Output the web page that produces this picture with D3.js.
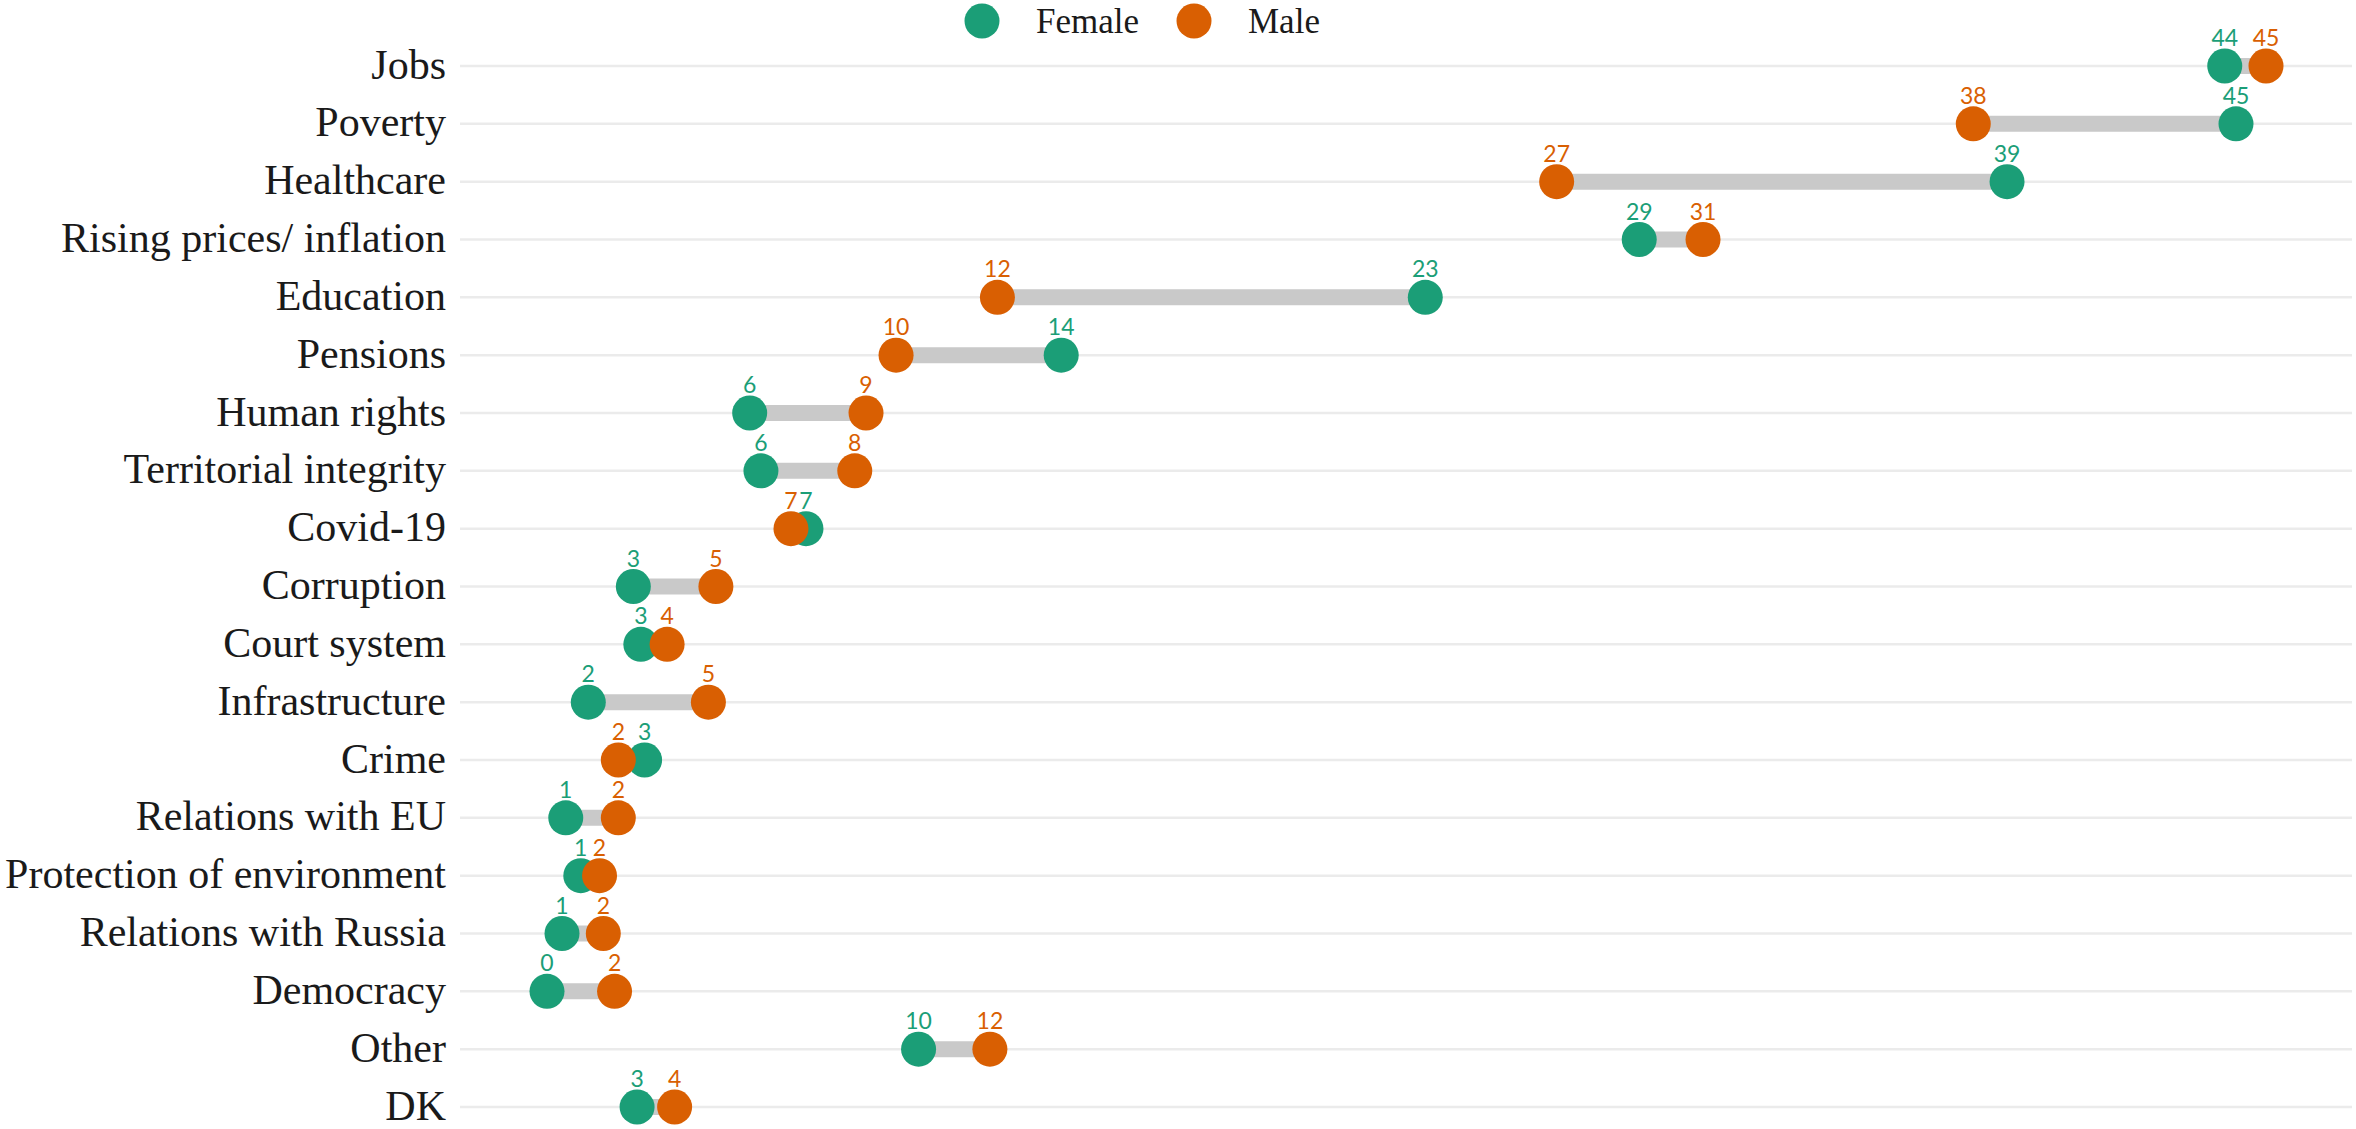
<!DOCTYPE html>
<html>
<head>
<meta charset="utf-8">
<script src="https://cdn.jsdelivr.net/npm/d3@7"></script>
<style>
  html, body { margin: 0; padding: 0; background: #ffffff; }
  svg { display: block; }
</style>
</head>
<body>
<svg id="chart"></svg>
<script>
// issues, top to bottom
var categories = [
  'Jobs', 'Poverty', 'Healthcare', 'Rising prices/ inflation', 'Education',
  'Pensions', 'Human rights', 'Territorial integrity', 'Covid-19', 'Corruption',
  'Court system', 'Infrastructure', 'Crime', 'Relations with EU',
  'Protection of environment', 'Relations with Russia', 'Democracy', 'Other', 'DK'
];

// plotted positions
var femaleValues = [44.7, 45.0, 38.9, 29.1, 23.4, 13.7, 5.4, 5.7, 6.9, 2.3, 2.5, 1.1, 2.6, 0.5, 0.9, 0.4, 0.0, 9.9, 2.4];
var maleValues   = [45.8, 38.0, 26.9, 30.8, 12.0, 9.3, 8.5, 8.2, 6.5, 4.5, 3.2, 4.3, 1.9, 1.9, 1.4, 1.5, 1.8, 11.8, 3.4];

// printed labels
var femaleLabels = ['44', '45', '39', '29', '23', '14', '6', '6', '7', '3', '3', '2', '3', '1', '1', '1', '0', '10', '3'];
var maleLabels   = ['45', '38', '27', '31', '12', '10', '9', '8', '7', '5', '4', '5', '2', '2', '2', '2', '2', '12', '4'];

var seriesNames = ['Female', 'Male'];

;(function (window, document, undefined) {

  'use strict';

  var width = 2356,
      height = 1129;

  var colors = { Female: '#1b9e77', Male: '#d95f02' };

  var svg = d3.select('#chart')
              .attr('width', width)
              .attr('height', height);

  var x = d3.scaleLinear()
            .domain([0, 45])
            .range([547, 2236]);

  var y = d3.scalePoint()
            .domain(categories)
            .range([66, 1107]);

  var rows = categories.map(function (c, i) {
    return {
      name: c,
      female: femaleValues[i],
      male: maleValues[i],
      femaleLabel: femaleLabels[i],
      maleLabel: maleLabels[i]
    };
  });

  // grid lines
  svg.append('g')
    .selectAll('line')
    .data(categories)
    .enter().append('line')
      .attr('x1', 460)
      .attr('x2', 2352)
      .attr('y1', function (d) { return y(d); })
      .attr('y2', function (d) { return y(d); })
      .attr('stroke', '#ebebeb')
      .attr('stroke-width', 2.5);

  // y axis labels
  svg.append('g')
    .selectAll('text')
    .data(categories)
    .enter().append('text')
      .attr('x', 446)
      .attr('y', function (d) { return y(d); })
      .attr('dy', '0.3em')
      .attr('text-anchor', 'end')
      .style('font-family', '"Liberation Serif", serif')
      .style('font-size', '42px')
      .style('fill', '#1a1a1a')
      .text(function (d) { return d; });

  // connecting bars
  svg.append('g')
    .selectAll('line')
    .data(rows)
    .enter().append('line')
      .attr('x1', function (d) { return x(d.female); })
      .attr('x2', function (d) { return x(d.male); })
      .attr('y1', function (d) { return y(d.name); })
      .attr('y2', function (d) { return y(d.name); })
      .attr('stroke', '#c9c9c9')
      .attr('stroke-width', 16);

  var dots = [
    { key: 'Female', value: 'female', label: 'femaleLabel' },
    { key: 'Male', value: 'male', label: 'maleLabel' }
  ];

  dots.forEach(function (s) {
    var g = svg.append('g');

    g.selectAll('circle')
      .data(rows)
      .enter().append('circle')
        .attr('cx', function (d) { return x(d[s.value]); })
        .attr('cy', function (d) { return y(d.name); })
        .attr('r', 17.5)
        .attr('fill', colors[s.key]);

    g.selectAll('text')
      .data(rows)
      .enter().append('text')
        .attr('x', function (d) { return x(d[s.value]); })
        .attr('y', function (d) { return y(d.name) - 20; })
        .attr('text-anchor', 'middle')
        .style('font-family', 'Lato, sans-serif')
        .style('font-size', '23px')
        .style('fill', colors[s.key])
        .text(function (d) { return d[s.label]; });
  });

  // legend
  var legendX = [982, 1194];
  var legend = svg.append('g')
    .selectAll('g')
    .data(seriesNames)
    .enter().append('g')
      .attr('transform', function (d, i) { return 'translate(' + legendX[i] + ',21)'; });

  legend.append('circle')
    .attr('r', 17.5)
    .attr('fill', function (d) { return colors[d]; });

  legend.append('text')
    .attr('x', 54)
    .attr('dy', '0.33em')
    .style('font-family', '"Liberation Serif", serif')
    .style('font-size', '35px')
    .style('fill', '#1a1a1a')
    .text(function (d) { return d; });

})(window, document);
</script>
</body>
</html>
